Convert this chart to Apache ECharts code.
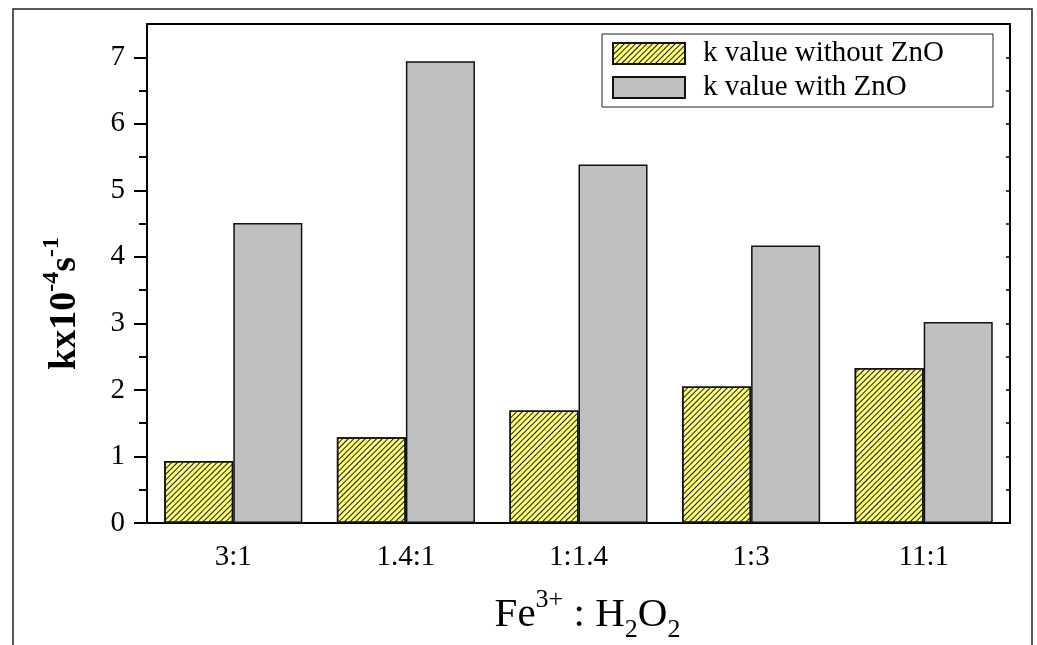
<!DOCTYPE html>
<html><head><meta charset="utf-8">
<script src="https://cdn.jsdelivr.net/npm/echarts@6/dist/echarts.min.js"></script>
<style>html,body{margin:0;padding:0;background:#fff}#c{width:1037px;height:645px}</style>
</head><body><div id="c"></div>
<script>
const categories = ['3:1', '1.4:1', '1:1.4', '1:3', '11:1'];
const withoutZnO = [0.93, 1.29, 1.69, 2.05, 2.33];
const withZnO = [4.51, 6.94, 5.39, 4.17, 3.02];
const seriesNames = ['k value without ZnO', 'k value with ZnO'];
const yMajorTicks = [0, 1, 2, 3, 4, 5, 6, 7];
const yMinorTicks = [0.5, 1.5, 2.5, 3.5, 4.5, 5.5, 6.5];
const yRightTicks = [0.5, 1, 1.5, 2, 2.5, 3, 3.5, 4, 4.5, 5, 5.5, 6, 6.5, 7];
const yMin = 0, yMax = 7.5;

const FONT = '"Liberation Serif","Times New Roman",serif';
const chart = echarts.init(document.getElementById('c'));
const hatch = { symbol: 'rect', symbolSize: 1, color: '#1a1a1a', dashArrayX: [1, 0], dashArrayY: [1, 2.2], rotation: -Math.PI / 4 };
const black2 = { color: '#000', width: 2 };

const option = {
  animation: false,
  backgroundColor: '#fff',
  grid: { left: 147, right: 27, top: 24, bottom: 122, containLabel: false, outerBoundsMode: 'none' },
  graphic: [{
    type: 'rect', silent: true, z: 0,
    shape: { x: 13, y: 9, width: 1019, height: 700 },
    style: { fill: null, stroke: '#222', lineWidth: 1.5 }
  }],
  legend: {
    orient: 'vertical', left: 602, top: 34,
    itemWidth: 72, itemHeight: 21, itemGap: 5,
    padding: [5, 12, 5, 10],
    icon: 'rect',
    borderColor: '#222', borderWidth: 1, backgroundColor: '#fff',
    textStyle: { fontFamily: FONT, fontSize: 29, color: '#000', lineHeight: 29, padding: [0, 0, 0, 13], width: 278 },
    data: seriesNames
  },
  xAxis: [
    {
      type: 'category', data: categories, position: 'bottom',
      axisLine: { onZero: false, lineStyle: black2 },
      axisTick: { alignWithLabel: true, length: 8, lineStyle: black2 },
      axisLabel: { fontFamily: FONT, fontSize: 29, color: '#000', margin: 20 },
      name: '{a|Fe}{s|3+}{a| : H}{b|2}{a|O}{b|2}',
      nameLocation: 'middle', nameGap: 64,
      nameTextStyle: {
        padding: [0, 0, 0, 18],
        rich: {
          a: { fontFamily: FONT, fontSize: 41, color: '#000', lineHeight: 56 },
          s: { fontFamily: FONT, fontSize: 26, color: '#000', lineHeight: 26, verticalAlign: 'top' },
          b: { fontFamily: FONT, fontSize: 26, color: '#000', lineHeight: 26, verticalAlign: 'bottom' }
        }
      }
    },
    {
      type: 'category', data: categories, position: 'bottom',
      axisLine: { show: false, onZero: false },
      axisTick: { length: 5, lineStyle: black2 },
      axisLabel: { show: false }
    },
    {
      type: 'category', data: categories, position: 'top',
      axisLine: { onZero: false, lineStyle: black2 },
      axisTick: { inside: true, alignWithLabel: true, length: 4, lineStyle: { color: '#000', width: 1.5 } },
      axisLabel: { show: false }
    },
    {
      type: 'category', data: categories, position: 'top',
      axisLine: { show: false, onZero: false },
      axisTick: { inside: true, length: 4, lineStyle: { color: '#000', width: 1.5 } },
      axisLabel: { show: false }
    }
  ],
  yAxis: [
    {
      type: 'value', position: 'left', min: yMin, max: yMax,
      splitLine: { show: false },
      axisLine: { show: true, onZero: false, lineStyle: black2 },
      axisTick: { show: true, length: 13, lineStyle: black2, customValues: yMajorTicks },
      axisLabel: { fontFamily: FONT, fontSize: 29, color: '#000', margin: 22, customValues: yMajorTicks },
      name: '{a|kx10}{s|-4}{a|s}{s|-1}',
      nameLocation: 'middle', nameGap: 57, nameRotate: 90,
      nameTextStyle: {
        padding: [0, 60, 0, 0],
        rich: {
          a: { fontFamily: FONT, fontSize: 38, fontWeight: 'bold', color: '#000', lineHeight: 50 },
          s: { fontFamily: FONT, fontSize: 24, fontWeight: 'bold', color: '#000', lineHeight: 24, verticalAlign: 'top' }
        }
      }
    },
    {
      type: 'value', position: 'left', min: yMin, max: yMax,
      splitLine: { show: false },
      axisLine: { show: false, onZero: false },
      axisTick: { show: true, length: 8, lineStyle: black2, customValues: yMinorTicks },
      axisLabel: { show: false }
    },
    {
      type: 'value', position: 'right', min: yMin, max: yMax,
      splitLine: { show: false },
      axisLine: { show: true, onZero: false, lineStyle: black2 },
      axisTick: { show: true, inside: true, length: 4, lineStyle: { color: '#000', width: 1.5 }, customValues: yRightTicks },
      axisLabel: { show: false }
    }
  ],
  series: [
    {
      name: seriesNames[0], type: 'bar', data: withoutZnO,
      xAxisIndex: 0, yAxisIndex: 0,
      barGap: '0%', barCategoryGap: '20%',
      itemStyle: { color: '#ffff78', borderColor: '#111', borderWidth: 1.5, decal: hatch }
    },
    {
      name: seriesNames[1], type: 'bar', data: withZnO,
      xAxisIndex: 0, yAxisIndex: 0,
      barGap: '0%', barCategoryGap: '20%',
      itemStyle: { color: '#c0c0c0', borderColor: '#111', borderWidth: 1.5 }
    }
  ]
};
chart.setOption(option);
</script>
</body></html>
